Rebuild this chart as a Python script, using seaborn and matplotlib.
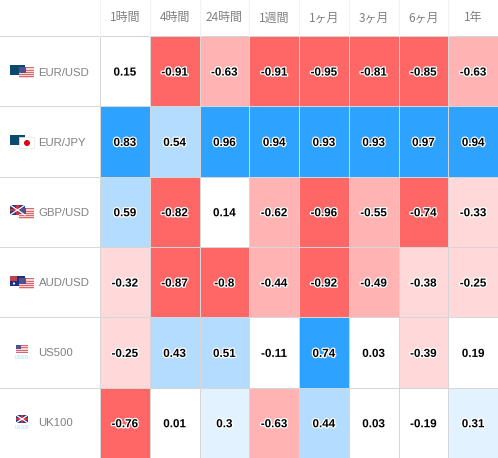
import matplotlib
matplotlib.use("Agg")
import matplotlib.pyplot as plt
import matplotlib.patheffects as pe
from matplotlib.colors import BoundaryNorm, ListedColormap
from matplotlib.patches import Circle, Rectangle
import numpy as np
import pandas as pd
import seaborn as sns

plt.rcParams["font.family"] = ["Noto Sans CJK JP", "DejaVu Sans"]

# Data
periods = ["1時間", "4時間", "24時間", "1週間", "1ヶ月", "3ヶ月", "6ヶ月", "1年"]
symbols = ["EUR/USD", "EUR/JPY", "GBP/USD", "AUD/USD", "US500", "UK100"]
eur_usd = [0.15, -0.91, -0.63, -0.91, -0.95, -0.81, -0.85, -0.63]
eur_jpy = [0.83, 0.54, 0.96, 0.94, 0.93, 0.93, 0.97, 0.94]
gbp_usd = [0.59, -0.82, 0.14, -0.62, -0.96, -0.55, -0.74, -0.33]
aud_usd = [-0.32, -0.87, -0.8, -0.44, -0.92, -0.49, -0.38, -0.25]
us500 = [-0.25, 0.43, 0.51, -0.11, 0.74, 0.03, -0.39, 0.19]
uk100 = [-0.76, 0.01, 0.3, -0.63, 0.44, 0.03, -0.19, 0.31]

df = pd.DataFrame([eur_usd, eur_jpy, gbp_usd, aud_usd, us500, uk100], index=symbols, columns=periods)

# Binned colours like the site uses
colors = ["#ff6666", "#ffb3b3", "#ffd9d9", "#ffffff", "#e3f2ff", "#b3dcff", "#2da2ff"]
bounds = [-1, -0.7, -0.4, -0.2, 0.2, 0.4, 0.7, 1]
cmap = ListedColormap(colors)
norm = BoundaryNorm(bounds, cmap.N)

W, H = 498, 458
fig = plt.figure(figsize=(W / 100, H / 100), dpi=100, facecolor="white")
ax = fig.add_axes([100 / W, 0, 398 / W, 422 / H])

sns.heatmap(df, ax=ax, cmap=cmap, norm=norm, cbar=False, linewidths=0.7, linecolor="#d6d6d6",
            annot=True, fmt="g",
            annot_kws={"family": "Liberation Sans", "weight": "bold", "size": 8.4, "color": "black",
                       "path_effects": [pe.withStroke(linewidth=1.8, foreground="white")]})
# values sit a little under the cell centre in the original
for t in ax.texts:
    px, py = t.get_position()
    t.set_position((px, py + 0.02))

ax.xaxis.tick_top()
ax.set_xticks(np.arange(len(periods)) + 0.5)
ax.set_xticklabels(periods, fontsize=8.6, color="#808080", rotation=0, va="center")
ax.tick_params(axis="x", length=0, pad=13)
ax.set_yticks([])
ax.set_xlabel("")
ax.set_ylabel("")

# page coordinates for the table furniture around the heatmap
page = fig.add_axes([0, 0, 1, 1], facecolor="none", zorder=5)
page.set_xlim(0, W)
page.set_ylim(H, 0)
page.axis("off")

for y in [36, 106, 176.5, 247, 317, 387.5]:
    page.plot([0, 100], [y, y], color="#d6d6d6", lw=0.7)
for x in [100, 149.7, 199.5, 249.2, 299, 348.7, 398.5, 448.2]:
    page.plot([x, x], [0, 36], color="#f2f2f2", lw=0.8)

for i, name in enumerate(symbols):
    page.text(38.5, 72.5 + i * 70.2, name, family="Liberation Sans", fontsize=8.2, color="#808080", va="center", ha="left")


def eu(x, y):
    page.add_patch(Rectangle((x, y), 15, 10, fc="#0b4a6e", ec="none"))


def usa(x, y, w=15, h=11):
    page.add_patch(Rectangle((x, y), w, h, fc="#f6d5d5", ec="none"))
    for k in range(0, 5):
        page.add_patch(Rectangle((x, y + k * h / 5 + 0.3), w, h / 10, fc="#d9686c", ec="none"))
    page.add_patch(Rectangle((x, y), w * 0.45, h * 0.55, fc="#50508c", ec="none"))


def gb(x, y, w=15, h=10):
    page.add_patch(Rectangle((x, y), w, h, fc="#2a3a80", ec="none"))
    page.plot([x, x + w], [y, y + h], color="white", lw=0.9)
    page.plot([x, x + w], [y + h, y], color="white", lw=0.9)
    page.add_patch(Rectangle((x + w * 0.42, y), w * 0.16, h, fc="#d03040", ec="none"))
    page.add_patch(Rectangle((x, y + h * 0.42), w, h * 0.16, fc="#d03040", ec="none"))


def au(x, y):
    page.add_patch(Rectangle((x, y), 15, 10, fc="#1c2f80", ec="none"))
    page.add_patch(Rectangle((x, y), 7, 5, fc="#c04050", ec="none"))
    page.add_patch(Circle((x + 4, y + 7.5), 1.1, fc="white", ec="none"))


eu(10, 65)
usa(19, 67)
eu(10, 135)
page.add_patch(Rectangle((19, 137), 15, 11, fc="white", ec="#e6e6e6", lw=0.5))
page.add_patch(Circle((27, 143), 3, fc="#e00010", ec="none"))
gb(10, 205)
usa(19, 208)
au(10, 276)
usa(19, 278)
usa(16, 345, 12, 8)
page.text(22, 357.5, "US500", fontsize=3.4, color="#9fdcf5", ha="center", va="center", family="Liberation Sans")
gb(16, 415, 12, 8)
page.text(22, 427.5, "UK100", fontsize=3.4, color="#9fdcf5", ha="center", va="center", family="Liberation Sans")

fig.savefig("out.png", dpi=100)
